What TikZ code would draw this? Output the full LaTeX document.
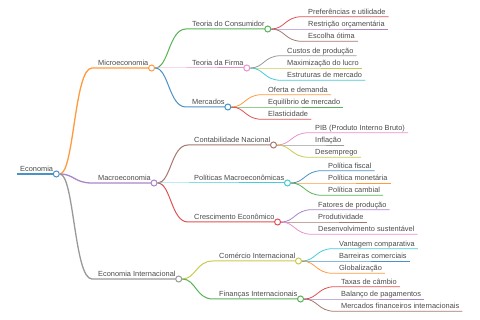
\documentclass[tikz,border=0pt]{standalone}
\usepackage{fontspec}
\setmainfont{Liberation Sans}
\usepackage{xcolor}
\usepackage{tikz}
\usetikzlibrary{positioning}
\usetikzlibrary{calc}

\definecolor{c0}{HTML}{4A92C6}
\definecolor{c1}{HTML}{FF9A3E}
\definecolor{c2}{HTML}{56B356}
\definecolor{c3}{HTML}{DE5253}
\definecolor{c4}{HTML}{A985CA}
\definecolor{c5}{HTML}{A3786F}
\definecolor{c6}{HTML}{E992CE}
\definecolor{c7}{HTML}{999999}
\definecolor{c8}{HTML}{C9CA4E}
\definecolor{c9}{HTML}{45CBD9}
\definecolor{ink}{HTML}{4A4A4A}

\begin{document}
\begin{tikzpicture}[x=1pt,y=-1pt,
    lbl/.style={inner xsep=3pt,inner ysep=2.3pt,text depth=0pt,text=ink,font=\fontsize{7.4}{9}\selectfont},
    knot/.style={circle,draw=#1,fill=white,line width=1pt,minimum size=6pt,inner sep=0pt},
    link/.style={to path={.. controls ($(\tikztostart)!.5!(\tikztotarget|-\tikztostart)$) and ($(\tikztotarget)!.5!(\tikztostart|-\tikztotarget)$) .. (\tikztotarget)}},
    l0/.style={line width=1.8pt},
    l1/.style={line width=1.3pt},
    l2/.style={line width=1pt},
    l3/.style={line width=0.8pt}]
\useasboundingbox (0,0) rectangle (480,320);

% root
\node[lbl,anchor=south west] (econ) at (17,174) {Economia};
\draw[l0,draw=c0] (econ.south west) -- (econ.south east);
\node[knot=c0] (econK) at (econ.south east) {};

% first level
\coordinate (microA) at (92,68);
\node[lbl,above right=0pt and 3pt of microA] (micro) {Microeconomia};
\draw[l1,draw=c1] (econK) to[link] (microA) -- (micro.south east);
\node[knot=c1] (microK) at (micro.south east) {};

\coordinate (macroA) at (92,183);
\node[lbl,above right=0pt and 3pt of macroA] (macro) {Macroeconomia};
\draw[l1,draw=c4] (econK) to[link] (macroA) -- (macro.south east);
\node[knot=c4] (macroK) at (macro.south east) {};

\coordinate (interA) at (92,279);
\node[lbl,above right=0pt and 3pt of interA] (inter) {Economia Internacional};
\draw[l1,draw=c7] (econK) to[link] (interA) -- (inter.south east);
\node[knot=c7] (interK) at (inter.south east) {};

% Microeconomia
\coordinate (consA) at (186,29);
\node[lbl,above right=0pt and 3pt of consA] (cons) {Teoria do Consumidor};
\draw[l2,draw=c2] (microK) to[link] (consA) -- (cons.south east);
\node[knot=c2] (consK) at (cons.south east) {};
\foreach \idx/\yy/\col/\lab in {1/16.7/c3/Preferências e utilidade,2/29/c4/Restrição orçamentária,3/41.3/c5/Escolha ótima}{
  \coordinate (consA\idx) at (302,\yy);
  \node[lbl,above right=0pt and 3pt of consA\idx] (cons\idx) {\lab};
  \draw[l3,draw=\col] (consK) to[link] (consA\idx) -- (cons\idx.south east);
}

\coordinate (firmaA) at (186,68);
\node[lbl,above right=0pt and 3pt of firmaA] (firma) {Teoria da Firma};
\draw[l2,draw=c6] (microK) to[link] (firmaA) -- (firma.south east);
\node[knot=c6] (firmaK) at (firma.south east) {};
\foreach \idx/\yy/\col/\lab in {1/55.7/c7/Custos de produção,2/68/c8/Maximização do lucro,3/80.3/c9/Estruturas de mercado}{
  \coordinate (firmaA\idx) at (281,\yy);
  \node[lbl,above right=0pt and 3pt of firmaA\idx] (firma\idx) {\lab};
  \draw[l3,draw=\col] (firmaK) to[link] (firmaA\idx) -- (firma\idx.south east);
}

\coordinate (mercA) at (186,107);
\node[lbl,above right=0pt and 3pt of mercA] (merc) {Mercados};
\draw[l2,draw=c0] (microK) to[link] (mercA) -- (merc.south east);
\node[knot=c0] (mercK) at (merc.south east) {};
\foreach \idx/\yy/\col/\lab in {1/94.7/c1/Oferta e demanda,2/107/c2/Equilíbrio de mercado,3/119.3/c3/Elasticidade}{
  \coordinate (mercA\idx) at (262,\yy);
  \node[lbl,above right=0pt and 3pt of mercA\idx] (merc\idx) {\lab};
  \draw[l3,draw=\col] (mercK) to[link] (mercA\idx) -- (merc\idx.south east);
}

% Macroeconomia
\coordinate (contA) at (188,145);
\node[lbl,above right=0pt and 3pt of contA] (cont) {Contabilidade Nacional};
\draw[l2,draw=c5] (macroK) to[link] (contA) -- (cont.south east);
\node[knot=c5] (contK) at (cont.south east) {};
\foreach \idx/\yy/\col/\lab in {1/132.7/c6/PIB (Produto Interno Bruto),2/145/c7/Inflação,3/157.3/c8/Desemprego}{
  \coordinate (contA\idx) at (309,\yy);
  \node[lbl,above right=0pt and 3pt of contA\idx] (cont\idx) {\lab};
  \draw[l3,draw=\col] (contK) to[link] (contA\idx) -- (cont\idx.south east);
}

\coordinate (poliA) at (188,183);
\node[lbl,above right=0pt and 3pt of poliA] (poli) {Políticas Macroeconômicas};
\draw[l2,draw=c9] (macroK) to[link] (poliA) -- (poli.south east);
\node[knot=c9] (poliK) at (poli.south east) {};
\foreach \idx/\yy/\col/\lab in {1/170.7/c0/Política fiscal,2/183/c1/Política monetária,3/195.3/c2/Política cambial}{
  \coordinate (poliA\idx) at (322,\yy);
  \node[lbl,above right=0pt and 3pt of poliA\idx] (poli\idx) {\lab};
  \draw[l3,draw=\col] (poliK) to[link] (poliA\idx) -- (poli\idx.south east);
}

\coordinate (cresA) at (188,222);
\node[lbl,above right=0pt and 3pt of cresA] (cres) {Crescimento Econômico};
\draw[l2,draw=c3] (macroK) to[link] (cresA) -- (cres.south east);
\node[knot=c3] (cresK) at (cres.south east) {};
\foreach \idx/\yy/\col/\lab in {1/209.7/c4/Fatores de produção,2/222/c5/Produtividade,3/234.3/c6/Desenvolvimento sustentável}{
  \coordinate (cresA\idx) at (312,\yy);
  \node[lbl,above right=0pt and 3pt of cresA\idx] (cres\idx) {\lab};
  \draw[l3,draw=\col] (cresK) to[link] (cresA\idx) -- (cres\idx.south east);
}

% Economia Internacional
\coordinate (comA) at (213,261);
\node[lbl,above right=0pt and 3pt of comA] (com) {Comércio Internacional};
\draw[l2,draw=c8] (interK) to[link] (comA) -- (com.south east);
\node[knot=c8] (comK) at (com.south east) {};
\foreach \idx/\yy/\col/\lab in {1/248.7/c9/Vantagem comparativa,2/261/c0/Barreiras comerciais,3/273.3/c1/Globalização}{
  \coordinate (comA\idx) at (333,\yy);
  \node[lbl,above right=0pt and 3pt of comA\idx] (com\idx) {\lab};
  \draw[l3,draw=\col] (comK) to[link] (comA\idx) -- (com\idx.south east);
}

\coordinate (finA) at (213,299);
\node[lbl,above right=0pt and 3pt of finA] (fin) {Finanças Internacionais};
\draw[l2,draw=c2] (interK) to[link] (finA) -- (fin.south east);
\node[knot=c2] (finK) at (fin.south east) {};
\foreach \idx/\yy/\col/\lab in {1/286.7/c3/Taxas de câmbio,2/299/c4/Balanço de pagamentos,3/311.3/c5/Mercados financeiros internacionais}{
  \coordinate (finA\idx) at (335,\yy);
  \node[lbl,above right=0pt and 3pt of finA\idx] (fin\idx) {\lab};
  \draw[l3,draw=\col] (finK) to[link] (finA\idx) -- (fin\idx.south east);
}
\end{tikzpicture}
\end{document}
